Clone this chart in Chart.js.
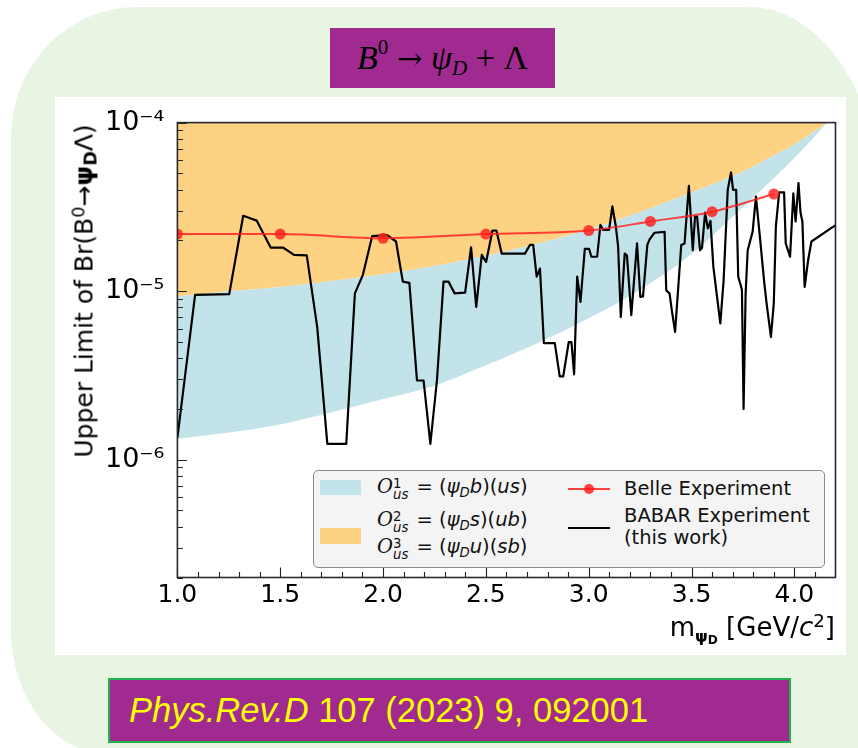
<!DOCTYPE html>
<html>
<head>
<meta charset="utf-8">
<script src="https://cdn.jsdelivr.net/npm/chart.js@4"></script>
<style>
html,body{margin:0;padding:0;background:#fff;}
body{width:858px;height:748px;position:relative;overflow:hidden;font-family:"DejaVu Sans",sans-serif;}
#green{position:absolute;left:11px;top:7px;width:870px;height:748px;background:#e9f5e3;
  border-radius:126px 132px 0 100px / 130px 200px 0 125px;}
#panel{position:absolute;left:55px;top:97px;width:791px;height:558px;background:#fff;}
#title{position:absolute;left:330px;top:28px;width:225px;height:60px;background:#a02a8f;
  display:flex;align-items:center;justify-content:center;font-family:"Liberation Serif",serif;font-size:34px;color:#000;white-space:nowrap;}
#title sup{font-size:0.62em;font-style:normal;vertical-align:0.7em;line-height:0;}
#title sub{font-size:0.62em;vertical-align:-0.3em;line-height:0;}
#title .arr{font-family:"DejaVu Serif",serif;font-size:0.9em;}
#cite{position:absolute;left:108px;top:678px;width:683px;height:65px;box-sizing:border-box;background:#a02a8f;
  border:2px solid #23b04f;color:#ffff00;font-family:"Liberation Sans",Arial,sans-serif;font-size:34.5px;line-height:61px;padding-left:19px;white-space:nowrap;}
#chart{position:absolute;left:0;top:0;}
#ytitle{position:absolute;left:83.5px;top:291px;transform:translate(-50%,-50%) rotate(-90deg);
  font-size:25px;white-space:nowrap;color:#000;}
#ytitle sup{font-size:0.7em;vertical-align:0.45em;line-height:0;}
#ytitle sub{font-size:0.7em;vertical-align:-0.25em;line-height:0;}
#xtitle{position:absolute;right:23px;top:612px;font-size:26px;white-space:nowrap;color:#000;}
#xtitle sub{font-size:0.62em;vertical-align:-0.35em;line-height:0;font-weight:bold;}
#xtitle sub sub{font-size:0.75em;vertical-align:-0.2em;}
#xtitle sup{font-size:0.7em;vertical-align:0.5em;line-height:0;}
#legend{position:absolute;left:313px;top:470px;width:512px;height:98px;box-sizing:border-box;background:#f4f4f4;
  border:1.5px solid #8a8a8a;border-radius:5px;z-index:5;}
.lg{position:absolute;font-size:19.5px;white-space:nowrap;color:#111;line-height:1;transform:translateY(-50%);}
.patch{position:absolute;}
.hline{position:absolute;height:0;}
.m i{font-family:"DejaVu Sans",sans-serif;font-style:oblique;}
.cal{font-family:"DejaVu Serif",serif;font-style:italic;}
.ss{display:inline-block;vertical-align:-0.42em;line-height:0.8;font-size:0.68em;text-align:left;margin-right:2px;}
.ss span{display:block;}
.sb{font-size:0.68em;vertical-align:-0.3em;line-height:0;}
</style>
</head>
<body>
<div id="green"></div>
<div id="panel"></div>
<div id="title"><span><i>B</i><sup>0</sup>&nbsp;<span class="arr">→</span>&nbsp;<i>ψ</i><sub><i>D</i></sub>&nbsp;+&nbsp;Λ</span></div>
<canvas id="chart" width="858" height="748"></canvas>
<div id="ytitle">Upper Limit of Br(B<sup>0</sup>→<b>ψ<sub>D</sub></b>Λ)</div>
<div id="xtitle">m<sub>ψ<sub>D</sub></sub> [GeV/<i>c</i><sup>2</sup>]</div>
<div id="legend">
  <div class="patch" style="left:6px;top:9px;width:41px;height:15px;background:#c3e3ea;"></div>
  <div class="patch" style="left:6px;top:57px;width:41px;height:16px;background:#fdd283;"></div>
  <div class="lg m" style="left:63px;top:18px;"><span class="cal">O</span><span class="ss"><span>1</span><span><i>us</i></span></span> = (<i>ψ</i><span class="sb"><i>D</i></span><i>b</i>)(<i>us</i>)</div>
  <div class="lg m" style="left:63px;top:51px;"><span class="cal">O</span><span class="ss"><span>2</span><span><i>us</i></span></span> = (<i>ψ</i><span class="sb"><i>D</i></span><i>s</i>)(<i>ub</i>)</div>
  <div class="lg m" style="left:63px;top:78px;"><span class="cal">O</span><span class="ss"><span>3</span><span><i>us</i></span></span> = (<i>ψ</i><span class="sb"><i>D</i></span><i>u</i>)(<i>sb</i>)</div>
  <div class="hline" style="left:254px;top:17px;width:42px;border-top:2px solid rgba(255,30,30,0.85);"></div>
  <div class="patch" style="left:270px;top:13px;width:10px;height:10px;border-radius:50%;background:rgba(255,30,30,0.85);"></div>
  <div class="hline" style="left:254px;top:56px;width:42px;border-top:2px solid #000;"></div>
  <div class="lg" style="left:310px;top:18px;">Belle Experiment</div>
  <div class="lg" style="left:310px;top:45px;">BABAR Experiment</div>
  <div class="lg" style="left:310px;top:67px;">(this work)</div>
</div>
<div id="cite"><i>Phys.Rev.D</i> 107 (2023) 9, 092001</div>

<script>
// ---- data ----
const bandMass = [1.0, 1.25, 1.5, 1.75, 2.0, 2.25, 2.5, 2.75, 3.0, 3.25, 3.5, 3.75, 3.9, 4.0, 4.1, 4.16, 4.2];
const bandLow  = [1.33e-6, 1.45e-6, 1.62e-6, 1.91e-6, 2.29e-6, 2.75e-6, 3.63e-6, 4.9e-6, 6.9e-6, 1.02e-5, 1.66e-5, 3.16e-5, 4.68e-5, 6.17e-5, 8.3e-5, 1.0e-4, 1.12e-4];
const bandHigh = [9.33e-6, 1.0e-5, 1.06e-5, 1.15e-5, 1.26e-5, 1.41e-5, 1.62e-5, 1.91e-5, 2.32e-5, 2.95e-5, 3.85e-5, 5.13e-5, 6.38e-5, 7.41e-5, 8.91e-5, 1.0e-4, 1.12e-4];

const belleMass  = [1.0, 1.5, 2.0, 2.5, 3.0, 3.3, 3.6, 3.9];
const belleLimit = [2.18e-5, 2.18e-5, 2.06e-5, 2.18e-5, 2.29e-5, 2.59e-5, 2.96e-5, 3.77e-5];

const babarMass = [1.000,1.086,1.252,1.320,1.386,1.454,1.515,1.567,1.629,1.680,1.729,1.821,1.863,1.902,1.947,2.020,2.063,2.096,2.128,2.165,2.197,2.230,2.262,2.294,2.318,2.348,2.399,2.428,2.453,2.480,2.501,2.532,2.551,2.577,2.690,2.714,2.730,2.747,2.763,2.782,2.835,2.859,2.876,2.903,2.916,2.929,2.944,2.960,2.981,3.002,3.013,3.041,3.057,3.070,3.099,3.115,3.132,3.143,3.156,3.175,3.186,3.207,3.235,3.251,3.264,3.285,3.296,3.320,3.369,3.377,3.393,3.404,3.420,3.450,3.466,3.487,3.506,3.517,3.527,3.541,3.551,3.566,3.579,3.592,3.606,3.627,3.640,3.656,3.676,3.692,3.702,3.717,3.727,3.745,3.753,3.763,3.773,3.797,3.813,3.830,3.854,3.866,3.886,3.900,3.910,3.926,3.950,3.958,3.979,3.995,4.006,4.020,4.030,4.039,4.050,4.067,4.083,4.184,4.200];
const babarLimit = [1.35e-6,9.5e-6,9.6e-6,2.80e-5,2.62e-5,1.81e-5,1.81e-5,1.64e-5,1.63e-5,6.1e-6,1.24e-6,1.24e-6,9.7e-6,1.25e-5,2.12e-5,2.15e-5,1.97e-5,1.14e-5,1.12e-5,2.95e-6,2.95e-6,1.24e-6,2.95e-6,1.14e-5,1.14e-5,9.7e-6,9.8e-6,1.82e-5,8.07e-6,1.64e-5,1.49e-5,2.29e-5,2.29e-5,1.67e-5,1.67e-5,1.88e-5,1.88e-5,1.22e-5,1.36e-5,4.92e-6,4.92e-6,3.12e-6,3.12e-6,4.99e-6,4.99e-6,3.21e-6,1.22e-5,8.63e-6,1.78e-5,1.78e-5,1.60e-5,1.60e-5,2.47e-5,2.31e-5,2.31e-5,3.18e-5,2.42e-5,1.84e-5,7.03e-6,1.67e-5,1.63e-5,7.2e-6,1.92e-5,9.24e-6,9.3e-6,1.88e-5,2.03e-5,2.22e-5,2.25e-5,1.01e-5,9.7e-6,7.71e-6,5.73e-6,1.88e-5,1.92e-5,4.22e-5,1.75e-5,2.77e-5,2.77e-5,1.75e-5,1.81e-5,2.92e-5,2.36e-5,2.61e-5,1.40e-5,8.63e-6,6.43e-6,1.16e-5,3.99e-5,5.06e-5,3.99e-5,3.99e-5,1.22e-5,1.02e-5,2.0e-6,9.7e-6,1.75e-5,2.25e-5,3.64e-5,2.25e-5,1.11e-5,8.26e-6,5.35e-6,8.5e-6,2.42e-5,3.85e-5,3.85e-5,1.92e-5,1.60e-5,3.81e-5,2.59e-5,4.38e-5,2.92e-5,2.59e-5,1.06e-5,1.53e-5,1.97e-5,2.39e-5,2.45e-5];

const xTickValues = [1.0, 1.5, 2.0, 2.5, 3.0, 3.5, 4.0];
const xTickLabels = ['1.0', '1.5', '2.0', '2.5', '3.0', '3.5', '4.0'];
const yTickValues = [1e-6, 1e-5, 1e-4];
const yTickLabels = ['10\u207B\u2076', '10\u207B\u2075', '10\u207B\u2074'];

const X_MIN = 1.0, X_MAX = 4.2, Y_MIN = 2e-7, Y_MAX = 1e-4;

const pts = (xs, ys) => xs.map((x, i) => ({x: x, y: ys[i]}));

// inward ticks and frame, placed through the chart's own scales
const frameTicks = {
  id: 'frameTicks',
  afterDatasetsDraw(chart) {
    const {ctx, chartArea: a, scales: {x, y}} = chart;
    ctx.save();
    ctx.strokeStyle = '#222';
    ctx.lineWidth = 1.1;
    ctx.beginPath();
    for (let k = 10; k <= 42; k++) {
      const v = k / 10;
      const major = (k % 5 === 0);
      const px = Math.round(x.getPixelForValue(v)) + 0.5;
      if (px > a.right) continue;
      ctx.moveTo(px, a.bottom);
      ctx.lineTo(px, a.bottom - (major ? 10 : 5.5));
    }
    for (let e = -7; e <= -4; e++) {
      for (let m = 1; m <= 9; m++) {
        const v = m * Math.pow(10, e);
        if (v < Y_MIN * 0.999 || v > Y_MAX * 1.001) continue;
        const py = Math.round(y.getPixelForValue(v)) + 0.5;
        ctx.moveTo(a.left, py);
        ctx.lineTo(a.left + (m === 1 ? 9.5 : 5.5), py);
      }
    }
    ctx.stroke();
    ctx.lineWidth = 1.6;
    ctx.strokeStyle = '#2a2a2a';
    ctx.strokeRect(a.left, a.top, a.right - a.left, a.bottom - a.top);
    ctx.restore();
  }
};

const YAXIS_W = 100, XAXIS_H = 50;
const AREA = {left: 177.4, top: 122.6, right: 835.5, bottom: 577.5};

new Chart(document.getElementById('chart'), {
  type: 'line',
  data: {
    datasets: [
      {
        label: 'Belle Experiment',
        data: pts(belleMass, belleLimit),
        borderColor: 'rgba(255,30,30,0.82)',
        backgroundColor: 'rgba(255,30,30,0.82)',
        borderWidth: 2,
        pointRadius: 5.5,
        pointBorderWidth: 0,
        cubicInterpolationMode: 'monotone',
        fill: false
      },
      {
        label: 'BABAR Experiment (this work)',
        data: pts(babarMass, babarLimit),
        borderColor: '#000',
        borderWidth: 2.2,
        pointRadius: 0,
        tension: 0,
        borderJoinStyle: 'round',
        fill: false
      },
      {
        label: 'O1',
        data: pts(bandMass, bandLow),
        borderColor: 'rgba(0,0,0,0)',
        borderWidth: 0,
        pointRadius: 0,
        cubicInterpolationMode: 'monotone',
        backgroundColor: '#c3e3ea',
        fill: '+1'
      },
      {
        label: 'O2 O3',
        data: pts(bandMass, bandHigh),
        borderColor: 'rgba(0,0,0,0)',
        borderWidth: 0,
        pointRadius: 0,
        cubicInterpolationMode: 'monotone',
        backgroundColor: '#fdd283',
        fill: 'end'
      }
    ]
  },
  options: {
    responsive: false,
    devicePixelRatio: 1,
    animation: false,
    layout: {padding: {left: AREA.left - YAXIS_W, top: AREA.top, right: 858 - AREA.right, bottom: 748 - AREA.bottom - XAXIS_H}},
    plugins: {legend: {display: false}, tooltip: {enabled: false}},
    scales: {
      x: {
        type: 'linear', min: X_MIN, max: X_MAX,
        grid: {display: false, drawTicks: false},
        border: {display: false},
        afterFit: s => { s.height = XAXIS_H; },
        afterBuildTicks: s => { s.ticks = xTickValues.map(v => ({value: v})); },
        ticks: {
          autoSkip: false, maxRotation: 0, padding: 3, color: '#000',
          font: {family: 'DejaVu Sans', size: 25},
          callback: (v, i) => xTickLabels[i]
        }
      },
      y: {
        type: 'logarithmic', min: Y_MIN, max: Y_MAX,
        grid: {display: false, drawTicks: false},
        border: {display: false},
        afterFit: s => { s.width = YAXIS_W; },
        afterBuildTicks: s => { s.ticks = yTickValues.map(v => ({value: v, major: true})); },
        ticks: {
          autoSkip: false, padding: 13, color: '#000',
          font: {family: 'DejaVu Sans', size: 27},
          callback: (v, i) => yTickLabels[i]
        }
      }
    }
  },
  plugins: [frameTicks]
});
</script>
</body>
</html>
